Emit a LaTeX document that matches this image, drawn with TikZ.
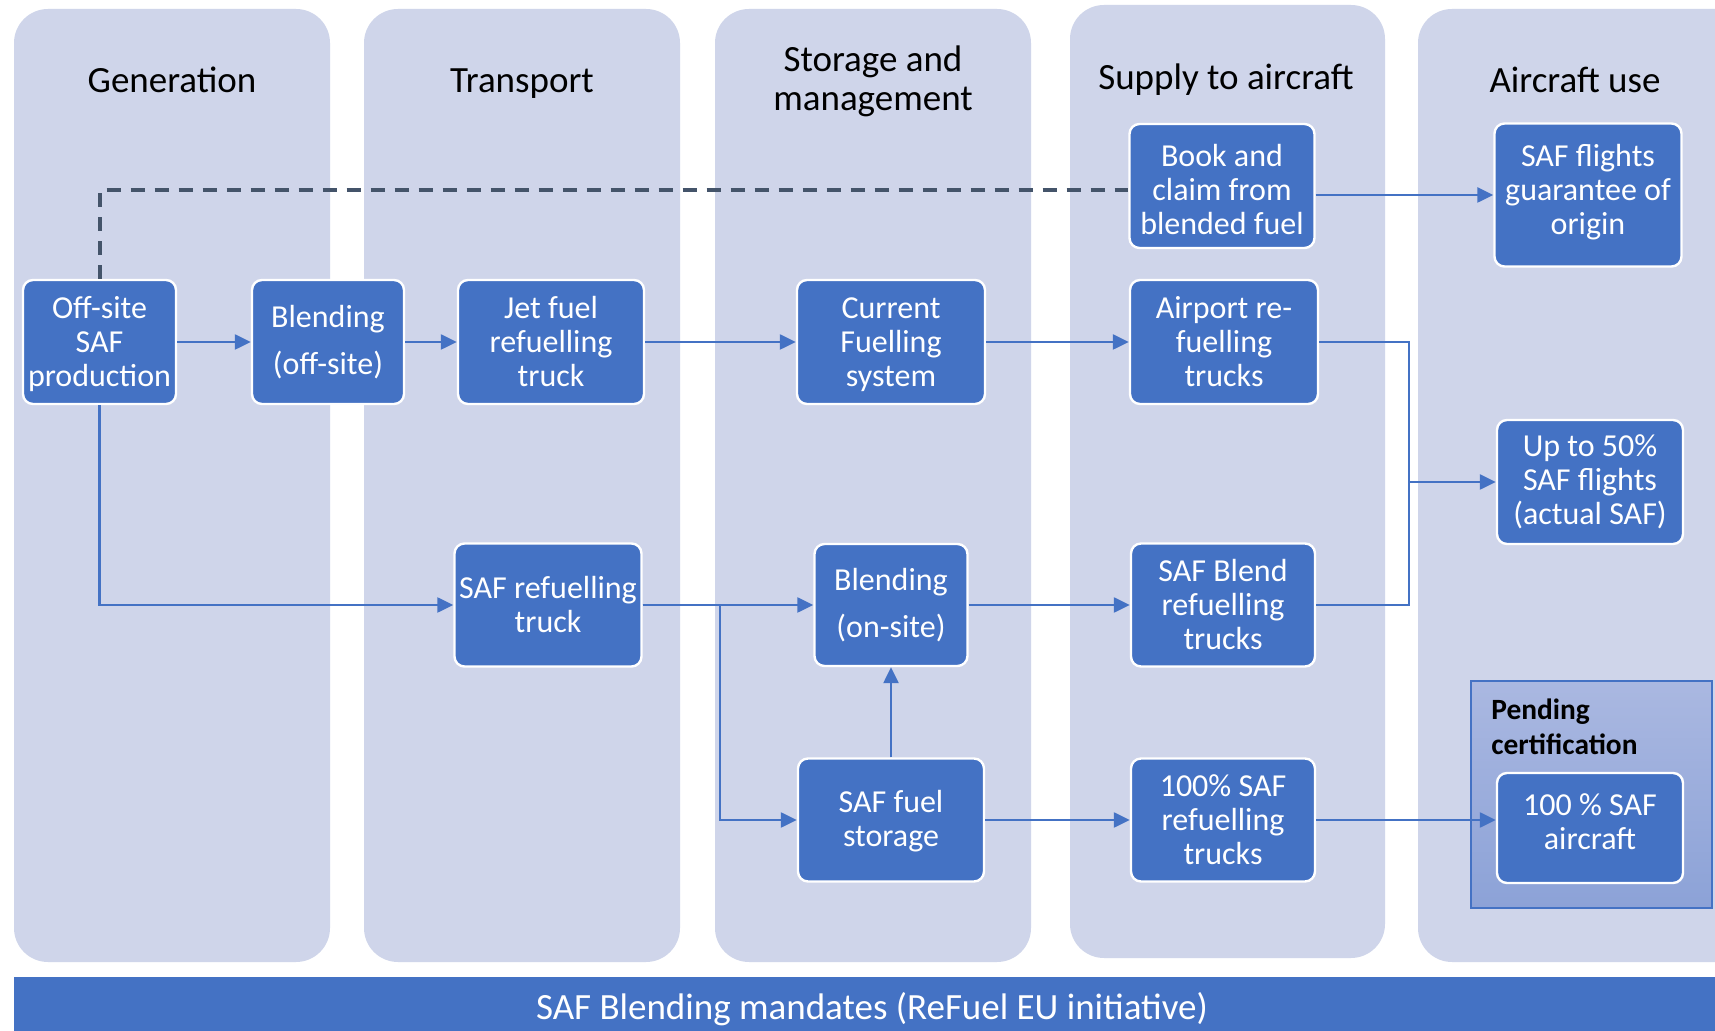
\documentclass[tikz,border=0pt]{standalone}
\usepackage{fontspec}
\setmainfont{Carlito}
\usetikzlibrary{arrows.meta,calc}
\definecolor{colbg}{HTML}{CFD5EA}
\definecolor{boxblue}{HTML}{4472C4}
\definecolor{dashgray}{HTML}{44546A}
\definecolor{pendtop}{HTML}{AAB8E1}
\definecolor{pendbot}{HTML}{8CA2D7}
\begin{document}
\begin{tikzpicture}[x=0.5pt,y=-0.5pt,
  column/.style={fill=colbg, rounded corners=17pt},
  header/.style={font=\fontsize{18.5}{19.5}\selectfont, align=center, text=black},
  hsingle/.style={header, text height=12pt, text depth=4pt},
  box/.style={draw=white, line width=1.2pt, fill=boxblue, rounded corners=5pt, text=white,
    font=\fontsize{16}{17}\selectfont, align=center, inner sep=0pt},
  conn/.style={draw=boxblue, line width=1.2pt, -{Triangle[length=8pt,width=7.5pt]}},
  plainline/.style={draw=boxblue, line width=1.2pt},
  dashline/.style={draw=dashgray, line width=2pt, dash pattern=on 7pt off 5pt},
]
\useasboundingbox (0,0) rectangle (1715,1031);
\fill[white] (0,0) rectangle (1715,1031);

% columns
\fill[column] (14,9) rectangle (330,962);
\fill[column] (364,9) rectangle (680,962);
\fill[column] (715,9) rectangle (1031,962);
\fill[column] (1070,5) rectangle (1385,958);
\begin{scope}
\clip (0,0) rectangle (1715,1031);
\fill[column] (1418,9) rectangle (1780,962);
\end{scope}

% headers
\node[hsingle] (hgen) at (172,84.5) {Generation};
\node[hsingle] (htra) at (522,84.5) {Transport};
\node[header] (hsto) at (873,81.5) {Storage and\\management};
\node[hsingle] (hsup) at (1226,81.5) {Supply to aircraft};
\node[hsingle] (hair) at (1575,84.5) {Aircraft use};

% pending certification area
\shade[top color=pendtop, bottom color=pendbot, draw=boxblue, line width=0.6pt] (1471,681) rectangle (1712,908);
\node[anchor=west, align=left, inner sep=0pt, font=\bfseries\fontsize{14.7}{17.5}\selectfont] (pend) at (1491,727) {Pending\\certification};

% boxes
\node[box, minimum width=76.5pt, minimum height=62pt] (offsite) at (99.5,342) {\rule{0pt}{13pt}Off-site\\SAF\\production};
\node[box, minimum width=76pt, minimum height=62pt] (blendoff) at (328,342) {Blending\\[6.5pt](off-site)};
\node[box, minimum width=93pt, minimum height=62pt] (jet) at (551,342) {Jet fuel\\refuelling\\truck};
\node[box, minimum width=94pt, minimum height=62pt] (current) at (891,342) {\rule{0pt}{13.5pt}Current\\Fuelling\\system};
\node[box, minimum width=94pt, minimum height=62pt] (airport) at (1224,342) {Airport re-\\fuelling\\trucks};
\node[box, minimum width=92.5pt, minimum height=62pt] (book) at (1222,186) {\rule{0pt}{14.5pt}Book and\\claim from\\blended fuel};
\node[box, minimum width=93.5pt, minimum height=71.5pt] (guar) at (1588,195) {SAF flights\\guarantee of\\origin\rule[-6pt]{0pt}{6pt}};
\node[box, minimum width=93pt, minimum height=62pt] (up50) at (1590,482) {Up to 50\%\\SAF flights\\(actual SAF)};
\node[box, minimum width=93.5pt, minimum height=61.5pt] (saftruck) at (548,605) {SAF refuelling\\truck};
\node[box, minimum width=76.5pt, minimum height=61pt] (blendon) at (891,605) {Blending\\[6.5pt](on-site)};
\node[box, minimum width=92pt, minimum height=61.5pt] (safblend) at (1223,605) {SAF Blend\\refuelling\\trucks};
\node[box, minimum width=93pt, minimum height=61.5pt] (storage) at (891,820) {\rule{0pt}{12.5pt}SAF fuel\\storage};
\node[box, minimum width=92pt, minimum height=61.5pt] (saf100) at (1223,820) {100\% SAF\\refuelling\\trucks};
\node[box, minimum width=93pt, minimum height=55pt] (air100) at (1590,828) {100 \% SAF\\aircraft\rule[-6pt]{0pt}{6pt}};

% banner
\fill[boxblue] (14,977) rectangle (1715,1031);
\node[text=white, font=\fontsize{18.5}{20}\selectfont] (banner) at (872,1009) {SAF Blending mandates (ReFuel EU initiative)};

% connectors
\coordinate (jn) at (1409,482);
\coordinate (split) at (720,605);
\draw[dashline] (offsite.north) |- ([yshift=-2pt]book.west);
\draw[conn] (offsite.east) -- (blendoff.west);
\draw[conn] (blendoff.east) -- (jet.west);
\draw[conn] (jet.east) -- (current.west);
\draw[conn] (current.east) -- (airport.west);
\draw[conn] (book.east |- guar.west) -- (guar.west);
\draw[conn] (airport.east) -| (jn) -- (up50.west);
\draw[plainline] (safblend.east) -| (jn);
\draw[conn] (offsite.south) |- (saftruck.west);
\draw[conn] (saftruck.east) -- (blendon.west);
\draw[conn] (saftruck.east) -- (split) |- (storage.west);
\draw[conn] (storage.north) -- (blendon.south);
\draw[conn] (blendon.east) -- (safblend.west);
\draw[conn] (storage.east) -- (saf100.west);
\draw[conn] (saf100.east) -- (saf100.east -| air100.west);
\end{tikzpicture}
\end{document}
